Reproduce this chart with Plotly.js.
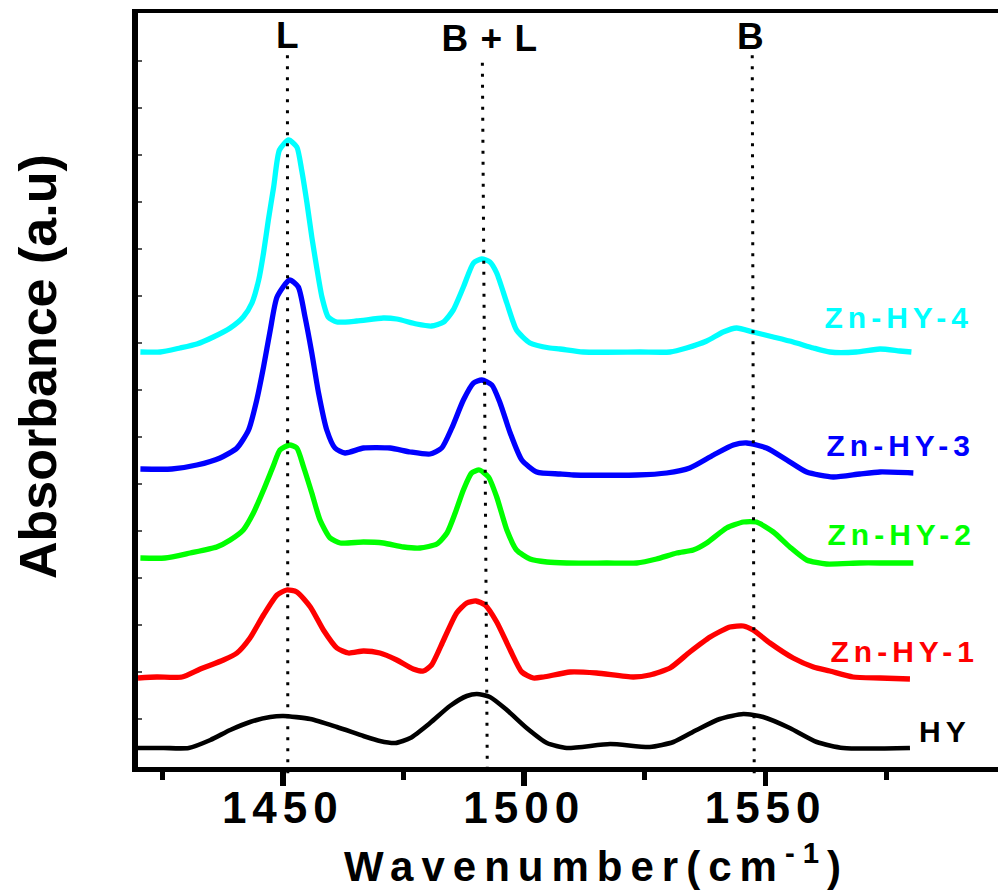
<!DOCTYPE html>
<html><head><meta charset="utf-8">
<script src="https://cdn.plot.ly/plotly-3.0.1.min.js"></script>
<style>
html,body{margin:0;padding:0;overflow:hidden;background:#fff;}
#chart{width:1012px;height:896px;}
.xtick text{letter-spacing:6px;}
.annotation[data-index="1"] .annotation-text{letter-spacing:1px;}
.annotation[data-index="3"] .annotation-text,
.annotation[data-index="4"] .annotation-text,
.annotation[data-index="5"] .annotation-text,
.annotation[data-index="6"] .annotation-text,
.annotation[data-index="7"] .annotation-text{letter-spacing:5px;}
.annotation[data-index="8"] .annotation-text{letter-spacing:8px;}
</style></head>
<body><div id="chart"></div>
<script>
// ---- data (wavenumber in cm^-1, absorbance in arbitrary stacked units) ----
const hyWave  = [1420,1425.3,1430.5,1435.0,1439.1,1443.2,1447.4,1450.1,1455.7,1461.2,1466.7,1470.1,1473.3,1476.4,1480.5,1484.6,1488.1,1490.2,1492.9,1496.4,1500.5,1504.7,1508.8,1517.8,1526.0,1530.9,1535.7,1540.5,1545.4,1549.5,1555.0,1560.6,1566.1,1579.9];
const hyAbs   = [0.19,0.19,0.19,0.27,0.37,0.45,0.50,0.51,0.48,0.40,0.31,0.26,0.24,0.29,0.44,0.61,0.71,0.73,0.70,0.57,0.39,0.24,0.19,0.23,0.20,0.25,0.37,0.48,0.53,0.50,0.39,0.25,0.19,0.19];

const zn1Wave = [1420,1423.9,1429.1,1432.9,1437.7,1440.5,1443.2,1446.0,1448.8,1450.8,1452.9,1455.7,1458.4,1461.2,1463.6,1466.7,1470.1,1473.6,1477.0,1479.1,1480.8,1483.3,1486.0,1488.1,1490.0,1491.9,1494.3,1497.1,1499.5,1501.9,1504.0,1509.5,1515.0,1522.6,1526.0,1530.2,1534.3,1538.5,1542.6,1545.4,1547.4,1550.9,1555.7,1559.9,1563.3,1568.1,1573.7,1579.9];
const zn1Abs  = [0.89,0.90,0.90,0.98,1.07,1.14,1.29,1.52,1.72,1.77,1.75,1.60,1.37,1.19,1.14,1.16,1.14,1.07,0.98,0.96,1.02,1.27,1.54,1.64,1.66,1.62,1.45,1.17,0.95,0.89,0.90,0.95,0.94,0.90,0.92,0.99,1.15,1.30,1.40,1.41,1.37,1.24,1.09,1.00,0.96,0.90,0.89,0.88];

const zn2Wave = [1420.5,1425.6,1430.8,1436.3,1439.1,1441.8,1443.9,1446.0,1448.1,1449.4,1451.4,1452.9,1454.3,1456.0,1457.7,1459.8,1461.9,1466.7,1470.8,1475.0,1478.4,1481.9,1484.0,1485.7,1487.4,1489.1,1490.7,1492.6,1494.3,1496.4,1498.4,1501.2,1504.7,1508.8,1517.1,1523.3,1527.4,1531.6,1535.0,1537.8,1541.9,1545.4,1548.1,1551.6,1555.0,1558.5,1562.6,1569.5,1575.1,1580.6];
const zn2Abs  = [2.09,2.09,2.14,2.20,2.27,2.37,2.54,2.77,3.02,3.17,3.22,3.19,3.00,2.74,2.47,2.29,2.24,2.25,2.24,2.20,2.19,2.23,2.34,2.54,2.77,2.94,2.97,2.90,2.70,2.37,2.17,2.08,2.05,2.04,2.04,2.04,2.08,2.14,2.17,2.24,2.39,2.45,2.45,2.35,2.20,2.07,2.03,2.04,2.04,2.04];

const zn3Wave = [1420.5,1427.0,1432.2,1437.0,1440.5,1442.9,1444.6,1446.0,1447.4,1448.8,1451.4,1453.2,1454.6,1456.0,1457.4,1459.1,1460.8,1462.9,1466.7,1472.2,1476.4,1480.5,1482.9,1485.0,1487.4,1489.5,1491.2,1493.3,1495.0,1497.1,1499.5,1502.6,1507.4,1510.2,1523.3,1529.5,1534.3,1539.2,1543.3,1546.1,1550.2,1554.4,1558.5,1564.0,1569.5,1573.7,1580.6];
const zn3Abs  = [2.98,2.98,3.02,3.09,3.19,3.37,3.67,4.00,4.37,4.70,4.87,4.80,4.50,4.14,3.74,3.37,3.19,3.14,3.19,3.19,3.15,3.13,3.19,3.39,3.67,3.84,3.87,3.82,3.64,3.34,3.07,2.95,2.93,2.92,2.92,2.94,2.99,3.12,3.22,3.24,3.19,3.07,2.95,2.90,2.93,2.95,2.94];

const zn4Wave = [1420.5,1424.6,1428.7,1432.2,1435.6,1439.1,1441.8,1443.6,1445.0,1446.0,1447.0,1448.1,1449.3,1451.2,1452.9,1453.9,1455.0,1456.0,1457.0,1458.1,1459.4,1461.2,1465.3,1470.8,1473.6,1477.7,1480.8,1483.3,1485.3,1487.4,1489.5,1491.2,1492.9,1494.3,1496.4,1498.4,1501.2,1505.3,1507.4,1512.2,1524.0,1530.2,1533.6,1537.8,1541.2,1544.0,1547.4,1551.6,1555.7,1559.9,1563.3,1568.8,1573.7,1577.8,1580.2];
const zn4Abs  = [4.15,4.15,4.19,4.23,4.30,4.39,4.50,4.64,4.87,5.14,5.47,5.80,6.17,6.27,6.20,5.97,5.64,5.30,5.00,4.70,4.50,4.45,4.46,4.49,4.48,4.43,4.41,4.45,4.57,4.80,5.04,5.08,5.05,4.94,4.64,4.37,4.24,4.19,4.18,4.15,4.15,4.15,4.19,4.26,4.35,4.39,4.35,4.30,4.25,4.19,4.15,4.15,4.18,4.16,4.15];

const seriesNames  = ['HY','Zn-HY-1','Zn-HY-2','Zn-HY-3','Zn-HY-4'];
const seriesColors = ['#000000','#ff0000','#00ff00','#0000ff','#00ffff'];
const seriesWaves  = [hyWave, zn1Wave, zn2Wave, zn3Wave, zn4Wave];
const seriesAbs    = [hyAbs, zn1Abs, zn2Abs, zn3Abs, zn4Abs];
const seriesLabelPos = [[1587.1,0.353],[1578.8,1.16],[1578.2,2.33],[1578.0,3.22],[1577.6,4.495]];

const bandLabels   = ['L','B + L','B'];
const bandTop      = [1450.95, 1491.33, 1547.23];
const bandBottom   = [1451.03, 1492.36, 1547.64];
const bandLabelPos = [[1450.9,7.32],[1492.9,7.285],[1546.8,7.31]];
const bandTopPaper = [0.944, 0.934, 0.944];

const xTickVals  = [1450, 1500, 1550];
const xTickText  = ['1450','1500','1550'];

const FONT = 'Liberation Sans, Arial, Helvetica, sans-serif';

const traces = seriesNames.map((n,i)=>({
  type:'scatter', mode:'lines', name:n,
  x: seriesWaves[i], y: seriesAbs[i],
  line:{color:seriesColors[i], width: i===0?4.6:5.3, shape:'spline', smoothing:0.6},
  hoverinfo:'skip', showlegend:false
}));

const shapes = bandLabels.map((b,i)=>({
  type:'line', xref:'x', yref:'paper',
  x0: bandTop[i], x1: bandBottom[i], y0: bandTopPaper[i], y1: -0.0133,
  line:{color:'#000', width:3, dash:'3px,8px'}, layer:'above'
}));

const annotations = [];
bandLabels.forEach((b,i)=>annotations.push({
  text:b, x:bandLabelPos[i][0], y:bandLabelPos[i][1], xref:'x', yref:'y',
  showarrow:false, xanchor:'center', yanchor:'middle',
  font:{family:FONT, size:37, color:'#000', weight:'bold'}
}));
seriesNames.slice().reverse().forEach((n,k)=>{
  const i = seriesNames.length-1-k;
  annotations.push({
    text:n, x:seriesLabelPos[i][0], y:seriesLabelPos[i][1], xref:'x', yref:'y',
    showarrow:false, xanchor:'center', yanchor:'middle',
    font:{family:FONT, size:30, color:seriesColors[i], weight:'bold'}
  });
});
annotations.push({
  text:'Wavenumber(cm<sup>-1</sup>)', xref:'paper', yref:'paper', x:0.528, y:-0.1275,
  showarrow:false, xanchor:'center', yanchor:'middle',
  font:{family:FONT, size:42, color:'#000', weight:'bold'}
});
annotations.push({
  text:'Absorbance (a.u)', xref:'paper', yref:'paper', x:-0.1151, y:0.5318, textangle:-90,
  showarrow:false, xanchor:'center', yanchor:'middle',
  font:{family:FONT, size:52, color:'#000', weight:'bold'}
});

const layout = {
  width:1012, height:896,
  margin:{l:138, r:5, t:13, b:129},
  paper_bgcolor:'#fff', plot_bgcolor:'#fff',
  showlegend:false,
  xaxis:{
    range:[1420,1600], showgrid:false, zeroline:false,
    showline:true, linecolor:'#000', linewidth:4.5, mirror:true,
    ticks:'outside', ticklen:14, tickwidth:5.5, tickcolor:'#000',
    tickmode:'array', tickvals:xTickVals, ticktext:xTickText,
    ticklabelstandoff:-15,
    minor:{dtick:25, tick0:1425, ticks:'outside', ticklen:8, tickwidth:5, tickcolor:'#000'},
    tickfont:{family:FONT, size:44, color:'#000', weight:'bold'}
  },
  yaxis:{
    range:[0,7.54], showgrid:false, zeroline:false,
    showline:true, linecolor:'#000', linewidth:6, mirror:true,
    ticks:'inside', ticklen:4, tickwidth:2, tickcolor:'#555',
    tick0:0.01, dtick:0.47, showticklabels:false
  },
  shapes:shapes,
  annotations:annotations
};

Plotly.newPlot('chart', traces, layout, {staticPlot:true, displayModeBar:false});
</script></body></html>
